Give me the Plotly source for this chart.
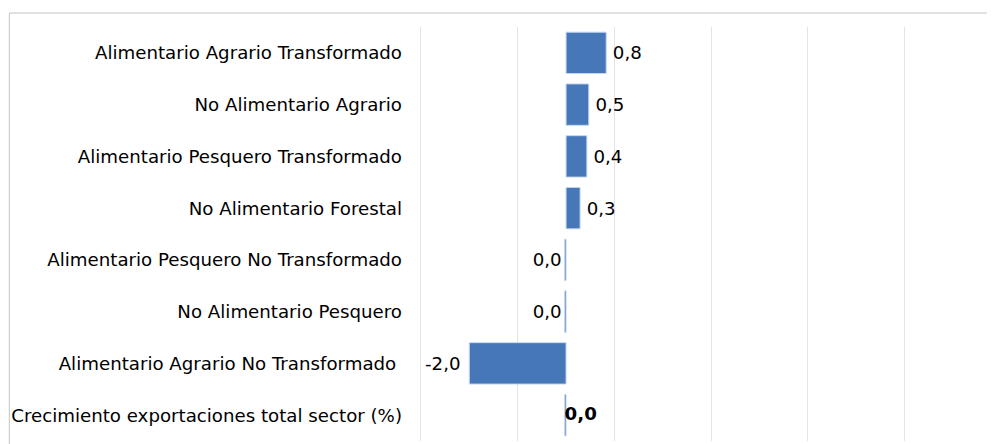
import plotly.graph_objects as go

categories = [
    "Alimentario Agrario Transformado",
    "No Alimentario Agrario",
    "Alimentario Pesquero Transformado",
    "No Alimentario Forestal",
    "Alimentario Pesquero No Transformado",
    "No Alimentario Pesquero",
    "Alimentario Agrario No Transformado\u00a0",
    "Crecimiento exportaciones total sector (%)",
]
values = [0.83, 0.47, 0.43, 0.29, -0.03, -0.03, -2.0, -0.03]
labels = ["\u20090,8", "\u20090,5", "\u20090,4", "\u20090,3", "0,0", "0,0", "-2,0\u00a0", ""]
total_label = "<b>0,0</b>"

FONT = "DejaVu Sans"
FS = 18.2

# page body has an 8px margin, so figure coords = window coords - 8
X_LEFT = -3.06
PX_PER_UNIT = 48.4
PLOT_L = 412.7 + (X_LEFT + 3) * PX_PER_UNIT
PLOT_T = 19.3
PLOT_B = 433.3
W, H = 995, 444
x_right = X_LEFT + (W - PLOT_L) / PX_PER_UNIT
standoff = int(round(18 - (412.7 - PLOT_L)))

fig = go.Figure()
fig.add_trace(go.Bar(
    y=categories,
    x=values,
    orientation="h",
    width=0.8,
    marker=dict(color="#4677b8", line=dict(color="#c9d8ec", width=1)),
    text=labels,
    textposition="outside",
    textfont=dict(family=FONT, size=FS, color="#000000"),
    cliponaxis=False,
    hoverinfo="skip",
))
fig.add_trace(go.Scatter(
    y=[categories[-1]],
    x=[values[-1]],
    mode="text",
    text=[total_label],
    textposition="middle right",
    textfont=dict(family=FONT, size=FS, color="#000000"),
    cliponaxis=False,
    hoverinfo="skip",
))

plot_h = PLOT_B - PLOT_T
fig.update_layout(
    width=W,
    height=H,
    margin=dict(l=PLOT_L, r=0, t=PLOT_T, b=H - PLOT_B, pad=0),
    paper_bgcolor="white",
    plot_bgcolor="white",
    showlegend=False,
    xaxis=dict(
        range=[X_LEFT, x_right],
        tick0=-3,
        dtick=2,
        showgrid=True,
        gridcolor="#e3e3e3",
        gridwidth=1,
        zeroline=False,
        showticklabels=False,
        showline=False,
        ticks="",
    ),
    yaxis=dict(
        autorange="reversed",
        showgrid=False,
        zeroline=False,
        showline=False,
        ticks="",
        ticklabelstandoff=standoff,
        tickfont=dict(family=FONT, size=FS, color="#000000"),
    ),
    shapes=[
        dict(
            type="rect",
            xref="paper", yref="paper",
            x0=(1 - PLOT_L) / (W - PLOT_L), x1=1.2,
            y0=-0.2, y1=1 + (PLOT_T - 5.3) / plot_h,
            line=dict(color="#c4c4c4", width=1),
            fillcolor="rgba(0,0,0,0)",
            layer="below",
        )
    ],
)

fig.write_html("out.html")
